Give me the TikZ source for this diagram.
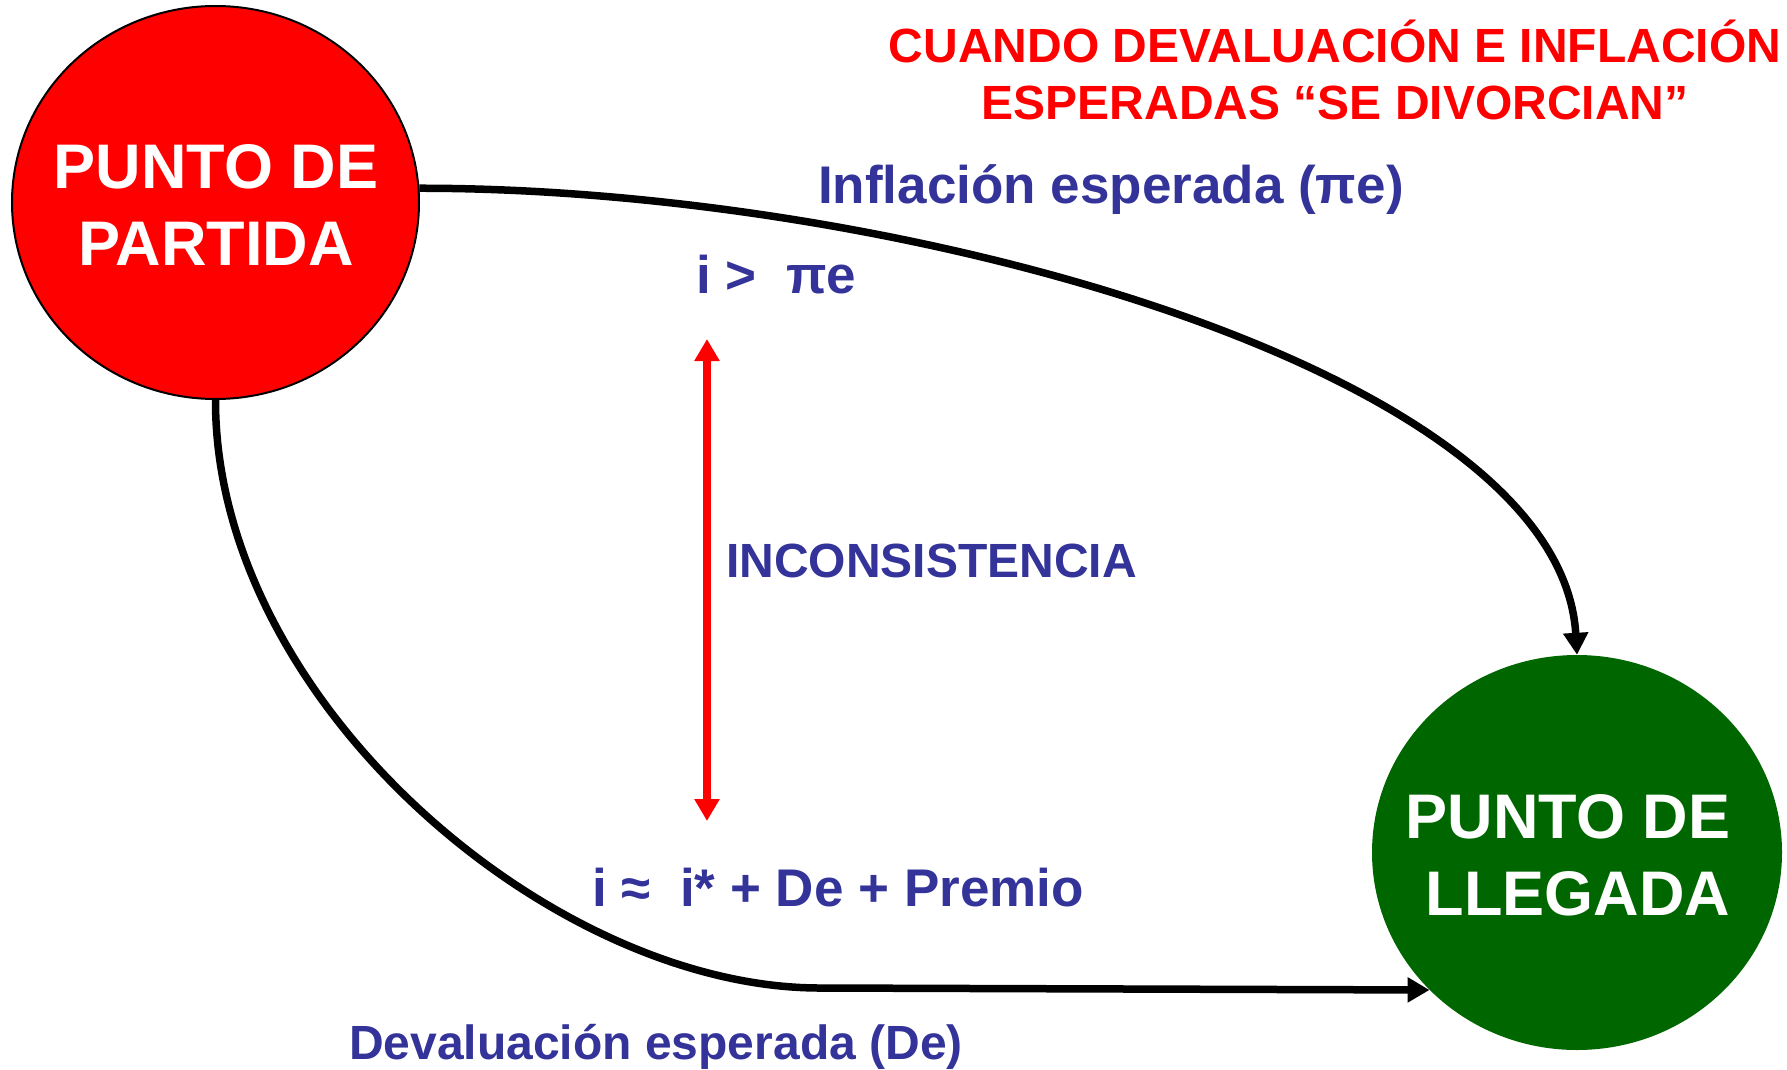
\documentclass[tikz,border=0pt]{standalone}
\usepackage{fontspec}
\setmainfont{Liberation Sans}
\usetikzlibrary{arrows.meta,shapes.geometric}
\definecolor{txtblue}{HTML}{333399}
\definecolor{dkgreen}{HTML}{006600}
\definecolor{pred}{HTML}{FF0000}
\begin{document}
\begin{tikzpicture}[x=1pt,y=-1pt,
  bigcirc/.style={ellipse, inner sep=0pt},
  circtxt/.style={font=\bfseries\fontsize{63}{77}\selectfont, text=white, inner sep=0pt, anchor=base},
  lblbig/.style={font=\bfseries\fontsize{53}{60}\selectfont, text=txtblue, inner sep=0pt, anchor=base west},
  lblsmall/.style={font=\bfseries\fontsize{48}{56}\selectfont, text=txtblue, inner sep=0pt, anchor=base west},
  titletxt/.style={font=\bfseries\fontsize{48}{57}\selectfont, text=pred, inner sep=0pt, anchor=base},
  flow/.style={line width=7.5pt, draw=black, -{Triangle[width=24pt,length=22pt]}},
  incarrow/.style={line width=7.5pt, draw=pred, {Triangle[width=24pt,length=22pt]}-{Triangle[width=24pt,length=22pt]}}
]
\useasboundingbox (0,0) rectangle (1787,1070);

% circles
\node[bigcirc, draw=black, line width=2pt, fill=pred, minimum width=407pt, minimum height=393pt]
  (start) at (215.5,202.5) {};
\node[bigcirc, fill=dkgreen, minimum width=410pt, minimum height=395pt]
  (goal) at (1577,852.5) {};

\node[circtxt] (start1) at (216,188) {PUNTO DE};
\node[circtxt] (start2) at (216,265) {PARTIDA};
\node[circtxt] (goal1) at (1568,838) {PUNTO DE};
\node[circtxt] (goal2) at (1578,915) {LLEGADA};

% title
\node[titletxt] (title1) at (1335,63) {CUANDO DEVALUACIÓN E INFLACIÓN};
\node[titletxt] (title2) at (1335,120) {ESPERADAS “SE DIVORCIAN”};

% labels
\node[lblbig] (infl) at (818,203) {Inflación esperada (πe)};
\node[lblbig] (ipi) at (696,293) {i > \ πe};
\node[lblsmall] (incons) at (726,577) {INCONSISTENCIA};
\node[lblbig] (iapprox) at (592,906) {i ≈ \ i* + De + Premio};
\node[lblsmall] (deval) at (349,1059) {Devaluación esperada (De)};

% connectors
\draw[flow] (start.4) .. controls (900,188) and (1560,370) .. (goal.north);
\coordinate (bend) at (820,988);
\draw[flow] (start.south) .. controls (215,700) and (550,988) .. (bend) -- (goal.223.5);

\coordinate (inctop) at (707,339);
\coordinate (incbot) at (707,821);
\draw[incarrow] (inctop) -- (incbot);
\end{tikzpicture}
\end{document}
